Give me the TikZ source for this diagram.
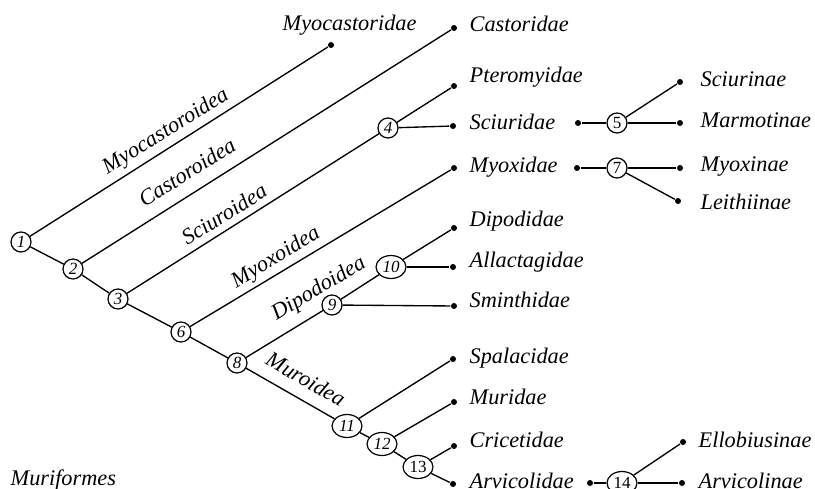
\documentclass[tikz,border=0pt]{standalone}
\usepackage{fontspec}
\setmainfont{Liberation Serif}
\usetikzlibrary{shapes.geometric}
\begin{document}
\begin{tikzpicture}[x=1pt,y=-1pt,line width=1.35pt,
  num/.style={circle,draw,line width=1.2pt,minimum size=20pt,inner sep=0pt,font=\fontsize{17}{17}\selectfont\itshape},
  numup/.style={num,font=\fontsize{17}{17}\selectfont},
  numel/.style={ellipse,draw,line width=1.2pt,minimum width=30pt,minimum height=23pt,inner sep=0pt,font=\fontsize{17}{17}\selectfont\itshape},
  numelup/.style={numel,font=\fontsize{17}{17}\selectfont},
  leafdot/.style={circle,fill,inner sep=0pt,minimum size=6pt},
  leaf/.style={anchor=base west,inner sep=0pt,font=\fontsize{22.3}{26}\selectfont\itshape},
  clade/.style={inner sep=0pt,font=\fontsize{22.3}{26}\selectfont\itshape}]
\useasboundingbox (0,0) rectangle (815,489);
% internal nodes
\node[num] (n1) at (21,242) {1};
\node[num] (n2) at (73,269) {2};
\node[num] (n3) at (118,299) {3};
\node[num] (n4) at (388,128) {4};
\node[numup] (n5) at (617,123) {5};
\node[num] (n6) at (181,332) {6};
\node[numup] (n7) at (617,168) {7};
\node[num] (n8) at (237,363) {8};
\node[num] (n9) at (332,305) {9};
\node[numel] (n10) at (391,267) {10};
\node[numel] (n11) at (347,426) {11};
\node[numel] (n12) at (382,444) {12};
\node[numelup] (n13) at (418,467) {13};
\node[numelup] (n14) at (622,483) {14};
% leaf dots
\node[leafdot] (dmyc) at (331,45) {};
\node[leafdot] (dcas) at (454,28) {};
\node[leafdot] (dpte) at (454,86) {};
\node[leafdot] (dsci) at (453,126) {};
\node[leafdot] (dmyo) at (454,168) {};
\node[leafdot] (ddip) at (454,228) {};
\node[leafdot] (dall) at (453,267) {};
\node[leafdot] (dsmi) at (454,306) {};
\node[leafdot] (dspa) at (453,359) {};
\node[leafdot] (dmur) at (454,402) {};
\node[leafdot] (dcri) at (454,446) {};
\node[leafdot] (darv) at (453,484) {};
\node[leafdot] (dsciB) at (578,123) {};
\node[leafdot] (dscn) at (680,82) {};
\node[leafdot] (dmar) at (680,123) {};
\node[leafdot] (dmyoB) at (577,168) {};
\node[leafdot] (dmyn) at (680,168) {};
\node[leafdot] (dlei) at (678,201) {};
\node[leafdot] (darvB) at (590,483) {};
\node[leafdot] (dell) at (683,442) {};
\node[leafdot] (darn) at (682,483) {};
% edges
\draw (n1) -- (n2) -- (n3) -- (n6) -- (n8) -- (n11) -- (n12) -- (n13);
\draw (n1) -- (dmyc);
\draw (n2) -- (dcas);
\draw (n3) -- (n4);
\draw (n4) -- (dpte);
\draw (n4) -- (dsci);
\draw (n6) -- (dmyo);
\draw (n8) -- (n9);
\draw (n9) -- (n10);
\draw (n10) -- (ddip);
\draw (n10) -- (dall);
\draw (n9) -- (dsmi);
\draw (n11) -- (dspa);
\draw (n12) -- (dmur);
\draw (n13) -- (dcri);
\draw (n13) -- (darv);
\draw (dsciB) -- (n5);
\draw (n5) -- (dscn);
\draw (n5) -- (dmar);
\draw (dmyoB) -- (n7);
\draw (n7) -- (dmyn);
\draw (n7) -- (dlei);
\draw (darvB) -- (n14);
\draw (n14) -- (dell);
\draw (n14) -- (darn);
% leaf texts
\node[leaf] (tmyc) at (282,31) {Myocastoridae};
\node[leaf] (tcas) at (469,32) {Castoridae};
\node[leaf] (tpte) at (469,83) {Pteromyidae};
\node[leaf] (tsci) at (469,130) {Sciuridae};
\node[leaf] (tmyo) at (469,173) {Myoxidae};
\node[leaf] (tdip) at (469,227) {Dipodidae};
\node[leaf] (tall) at (469,268) {Allactagidae};
\node[leaf] (tsmi) at (469,308) {Sminthidae};
\node[leaf] (tspa) at (469,363) {Spalacidae};
\node[leaf] (tmur) at (469,405) {Muridae};
\node[leaf] (tcri) at (469,447) {Cricetidae};
\node[leaf] (tarv) at (469,488) {Arvicolidae};
\node[leaf] (tscn) at (700,87) {Sciurinae};
\node[leaf] (tmar) at (700,128) {Marmotinae};
\node[leaf] (tmyn) at (700,172) {Myoxinae};
\node[leaf] (tlei) at (700,210) {Leithiinae};
\node[leaf] (tell) at (698,447) {Ellobiusinae};
\node[leaf] (tarn) at (698,488) {Arvicolinae};
\node[leaf] (tmuf) at (10,485) {Muriformes};
% clade labels
\node[clade,rotate=32] (cmyc) at (166,132) {Myocastoroidea};
\node[clade,rotate=32] (ccas) at (187,172) {Castoroidea};
\node[clade,rotate=32] (csci) at (224,214) {Sciuroidea};
\node[clade,rotate=31] (cmyo) at (276,258) {Myoxoidea};
\node[clade,rotate=31] (cdip) at (319,289) {Dipodoidea};
\node[clade,rotate=-30] (cmur) at (306,379) {Muroidea};
\end{tikzpicture}
\end{document}
